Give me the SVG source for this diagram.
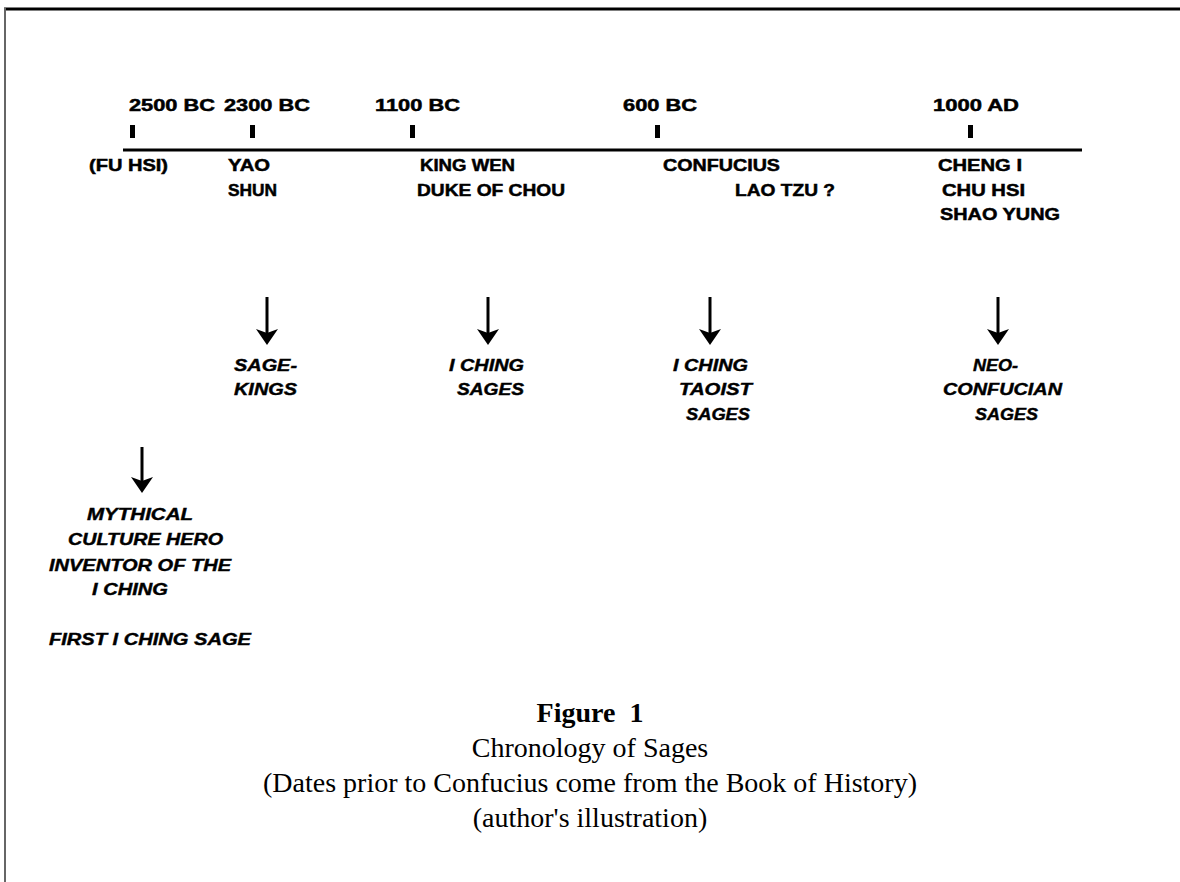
<svg xmlns="http://www.w3.org/2000/svg" width="1180" height="882" viewBox="0 0 1180 882">
<style>
.lbl{font-family:"Liberation Sans",Arial,sans-serif;font-weight:bold;font-size:17px;fill:#000;stroke:#000;stroke-width:0.5}
.ital{font-family:"Liberation Sans",Arial,sans-serif;font-weight:bold;font-style:italic;font-size:16px;fill:#000;stroke:#000;stroke-width:0.4}
.cap{font-family:"Liberation Serif","Times New Roman",serif;font-size:28px;fill:#000;text-anchor:middle;white-space:pre}
.tick{fill:#000}
.conn{stroke:#000;stroke-width:3;fill:none}
</style>
<defs>
<marker id="ah" markerUnits="userSpaceOnUse" markerWidth="18" markerHeight="24" refX="13" refY="11" orient="auto" viewBox="0 0 18 22">
<path d="M0,0 L16,11 L0,22 L4,11 Z" fill="#000"/>
</marker>
</defs>
<rect width="1180" height="882" fill="#fff"/>
<g id="frame">
<line x1="4" y1="9" x2="1180" y2="9" stroke="#000" stroke-width="3"/>
<line x1="5" y1="8" x2="5" y2="882" stroke="#666" stroke-width="2"/>
</g>
<g id="timeline">
<line x1="123" y1="150" x2="1082" y2="150" stroke="#000" stroke-width="3"/>
<rect class="tick" x="130" y="125" width="5" height="13"/>
<rect class="tick" x="250" y="125" width="5" height="13"/>
<rect class="tick" x="410" y="125" width="5" height="13"/>
<rect class="tick" x="655" y="125" width="5" height="13"/>
<rect class="tick" x="968" y="125" width="5" height="13"/>
</g>
<g id="dates">
<text class="lbl" x="129" y="111" textLength="86" lengthAdjust="spacingAndGlyphs">2500 BC</text>
<text class="lbl" x="224" y="111" textLength="86" lengthAdjust="spacingAndGlyphs">2300 BC</text>
<text class="lbl" x="375" y="111" textLength="85" lengthAdjust="spacingAndGlyphs">1100 BC</text>
<text class="lbl" x="623" y="111" textLength="74" lengthAdjust="spacingAndGlyphs">600 BC</text>
<text class="lbl" x="933" y="111" textLength="86" lengthAdjust="spacingAndGlyphs">1000 AD</text>
</g>
<g id="node-fuhsi">
<text class="lbl" x="89" y="171" textLength="79" lengthAdjust="spacingAndGlyphs">(FU HSI)</text>
<text class="ital" x="87" y="520" textLength="106" lengthAdjust="spacingAndGlyphs">MYTHICAL</text>
<text class="ital" x="68" y="545" textLength="155" lengthAdjust="spacingAndGlyphs">CULTURE HERO</text>
<text class="ital" x="49" y="571" textLength="182" lengthAdjust="spacingAndGlyphs">INVENTOR OF THE</text>
<text class="ital" x="92" y="595" textLength="76" lengthAdjust="spacingAndGlyphs">I CHING</text>
<text class="ital" x="49" y="645" textLength="202" lengthAdjust="spacingAndGlyphs">FIRST I CHING SAGE</text>
</g>
<g id="node-yaoshun">
<text class="lbl" x="228" y="171" textLength="42" lengthAdjust="spacingAndGlyphs">YAO</text>
<text class="lbl" x="228" y="196" textLength="49" lengthAdjust="spacingAndGlyphs">SHUN</text>
<text class="ital" x="234" y="371" textLength="63" lengthAdjust="spacingAndGlyphs">SAGE-</text>
<text class="ital" x="234" y="395" textLength="63" lengthAdjust="spacingAndGlyphs">KINGS</text>
</g>
<g id="node-kingwen">
<text class="lbl" x="420" y="171" textLength="95" lengthAdjust="spacingAndGlyphs">KING WEN</text>
<text class="lbl" x="417" y="196" textLength="148" lengthAdjust="spacingAndGlyphs">DUKE OF CHOU</text>
<text class="ital" x="449" y="371" textLength="75" lengthAdjust="spacingAndGlyphs">I CHING</text>
<text class="ital" x="457" y="395" textLength="67" lengthAdjust="spacingAndGlyphs">SAGES</text>
</g>
<g id="node-confucius">
<text class="lbl" x="663" y="171" textLength="117" lengthAdjust="spacingAndGlyphs">CONFUCIUS</text>
<text class="lbl" x="735" y="196" textLength="100" lengthAdjust="spacingAndGlyphs">LAO TZU ?</text>
<text class="ital" x="673" y="371" textLength="75" lengthAdjust="spacingAndGlyphs">I CHING</text>
<text class="ital" x="679" y="395" textLength="73" lengthAdjust="spacingAndGlyphs">TAOIST</text>
<text class="ital" x="686" y="420" textLength="64" lengthAdjust="spacingAndGlyphs">SAGES</text>
</g>
<g id="node-chengi">
<text class="lbl" x="938" y="171" textLength="84" lengthAdjust="spacingAndGlyphs">CHENG I</text>
<text class="lbl" x="942" y="196" textLength="83" lengthAdjust="spacingAndGlyphs">CHU HSI</text>
<text class="lbl" x="940" y="220" textLength="120" lengthAdjust="spacingAndGlyphs">SHAO YUNG</text>
<text class="ital" x="973" y="371" textLength="45" lengthAdjust="spacingAndGlyphs">NEO-</text>
<text class="ital" x="943" y="395" textLength="119" lengthAdjust="spacingAndGlyphs">CONFUCIAN</text>
<text class="ital" x="975" y="420" textLength="63" lengthAdjust="spacingAndGlyphs">SAGES</text>
</g>
<g id="connectors">
<line class="conn" x1="267" y1="297" x2="267" y2="342" marker-end="url(#ah)"/>
<line class="conn" x1="488" y1="297" x2="488" y2="342" marker-end="url(#ah)"/>
<line class="conn" x1="710" y1="297" x2="710" y2="342" marker-end="url(#ah)"/>
<line class="conn" x1="998" y1="297" x2="998" y2="342" marker-end="url(#ah)"/>
<line class="conn" x1="142" y1="447" x2="142" y2="490" marker-end="url(#ah)"/>
</g>
<g id="caption">
<text class="cap" x="590" y="722" font-weight="bold">Figure  1</text>
<text class="cap" x="590" y="757">Chronology of Sages</text>
<text class="cap" x="590" y="792">(Dates prior to Confucius come from the Book of History)</text>
<text class="cap" x="590" y="827">(author's illustration)</text>
</g>
</svg>
